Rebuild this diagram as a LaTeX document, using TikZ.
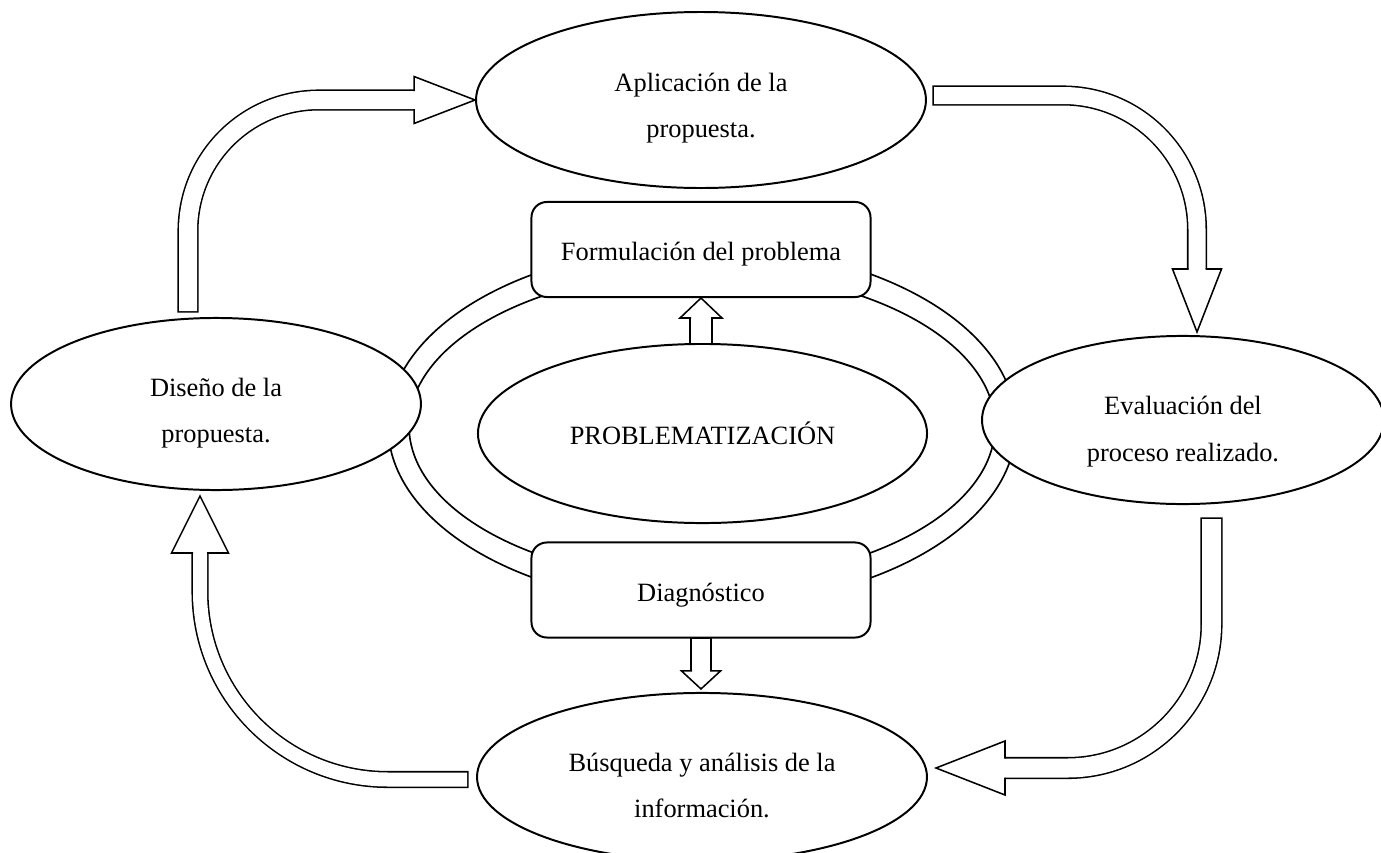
\documentclass[tikz,border=0pt]{standalone}
\usepackage{fontspec}
\setmainfont{Liberation Serif}
\usetikzlibrary{shapes.geometric,calc}
\newcommand{\px}{0.4545pt}
\newcommand{\lw}{0.7pt}
\newcommand{\lwpx}{1.54}
\newcommand{\lift}[1]{\rule{0pt}{#1}}
\tikzset{
  oval/.style={ellipse, draw, line width=0.9pt, fill=white, inner sep=0pt, align=center, font=\fontsize{12}{21}\selectfont},
  ring/.style={ellipse, draw, line width=0.75pt, inner sep=0pt},
  stage/.style={rectangle, rounded corners=7pt, draw, line width=0.9pt, fill=white, minimum width=154.1pt, minimum height=43.2pt, font=\fontsize{12}{14}\selectfont},
  shaft/.style={line width=#1*\px+2*\lw},
  core/.style={white, line width=#1*\px},
  arrowhead/.style={draw, fill=white, line width=\lw, line join=miter}
}

\begin{document}
\begin{tikzpicture}[x=0.4545pt, y=-0.4545pt]
\useasboundingbox (0,0) rectangle (1381,853);
%ring
\node[ring, minimum width=285.4pt, minimum height=163.6pt] (ringout) at (702,426) {};
\node[ring, minimum width=266.3pt, minimum height=140.9pt] (ringin) at (702,426) {};
%centre
\node[oval, minimum width=204.1pt, minimum height=81.4pt] (prob) at (702.5,433.5) {PROBLEMATIZACIÓN};
\node[stage] (form) at (701,249.5) {\lift{12.5pt}Formulación del problema};
\node[stage] (diag) at (701,590) {\lift{13pt}Diagnóstico};
%cycle
\node[oval, minimum width=204.5pt, minimum height=80pt] (apl) at (701,100) {\lift{16pt}Aplicación de la\\propuesta.};
\node[oval, minimum width=186.3pt, minimum height=78.2pt] (dis) at (216,404) {\lift{17pt}Diseño de la\\propuesta.};
\node[oval, minimum width=182.7pt, minimum height=76.4pt] (eva) at (1183,420) {\lift{19pt}Evaluación del\\proceso realizado.};
\node[oval, minimum width=204.5pt, minimum height=76.4pt] (bus) at (702,777) {\lift{16pt}Búsqueda y análisis de la\\información.};
%small arrows
\draw[shaft=20] ($(form.south |- prob.north)+(0,\lwpx)$) -- ($(form.south)+(0,20)$);
\draw[core=20] (form.south |- prob.north) -- ($(form.south)+(0,20)$);
\filldraw[arrowhead] ($(form.south)+(-10,20)$) -- ($(form.south)+(-21,20)$) -- (form.south) -- ($(form.south)+(21,20)$) -- ($(form.south)+(10,20)$);
\coordinate (dtip) at ($(diag.south |- bus.north)+(0,-3)$);
\draw[shaft=18] ($(diag.south)+(0,-\lwpx)$) -- ($(dtip)+(0,-18)$);
\draw[core=18] (diag.south) -- ($(dtip)+(0,-18)$);
\filldraw[arrowhead] ($(dtip)+(-9,-18)$) -- ($(dtip)+(-19.5,-18)$) -- (dtip) -- ($(dtip)+(19.5,-18)$) -- ($(dtip)+(9,-18)$);
%big arrows
\coordinate (t1) at (188,311);
\coordinate (b1) at ($(apl.west)+(-61,0)$);
\coordinate (t2) at (934,95.5);
\coordinate (b2) at (1197,269);
\coordinate (p2) at (1197,332);
\coordinate (t3) at (1211.5,519);
\coordinate (b3) at (1005,768);
\coordinate (p3) at (936,768);
\coordinate (t4) at (467,779.5);
\coordinate (b4) at (200,553);
\coordinate (p4) at (200,496);
%1
\draw[shaft=18, rounded corners=59.5pt] ($(t1)+(0,\lwpx)$) |- (b1);
\draw[core=18, rounded corners=59.5pt] (t1) |- (b1);
\filldraw[arrowhead] ($(b1)+(0,-9)$) -- ($(b1)+(0,-23.5)$) -- (apl.west) -- ($(b1)+(0,23.5)$) -- ($(b1)+(0,9)$);
%2
\draw[shaft=17, rounded corners=60.9pt] ($(t2)+(-\lwpx,0)$) -| (b2);
\draw[core=17, rounded corners=60.9pt] (t2) -| (b2);
\filldraw[arrowhead] ($(b2)+(-8.5,0)$) -- ($(b2)+(-24.5,0)$) -- (p2) -- ($(b2)+(24.5,0)$) -- ($(b2)+(8.5,0)$);
%3
\draw[shaft=19, rounded corners=65.4pt] ($(t3)+(0,-\lwpx)$) |- (b3);
\draw[core=19, rounded corners=65.4pt] (t3) |- (b3);
\filldraw[arrowhead] ($(b3)+(0,-9.5)$) -- ($(b3)+(0,-27)$) -- (p3) -- ($(b3)+(0,27)$) -- ($(b3)+(0,9.5)$);
%4
\draw[shaft=14, rounded corners=85.4pt] ($(t4)+(\lwpx,0)$) -| (b4);
\draw[core=14, rounded corners=85.4pt] (t4) -| (b4);
\filldraw[arrowhead] ($(b4)+(-7,0)$) -- ($(b4)+(-28.5,0)$) -- (p4) -- ($(b4)+(28.5,0)$) -- ($(b4)+(7,0)$);
\end{tikzpicture}
\end{document}
